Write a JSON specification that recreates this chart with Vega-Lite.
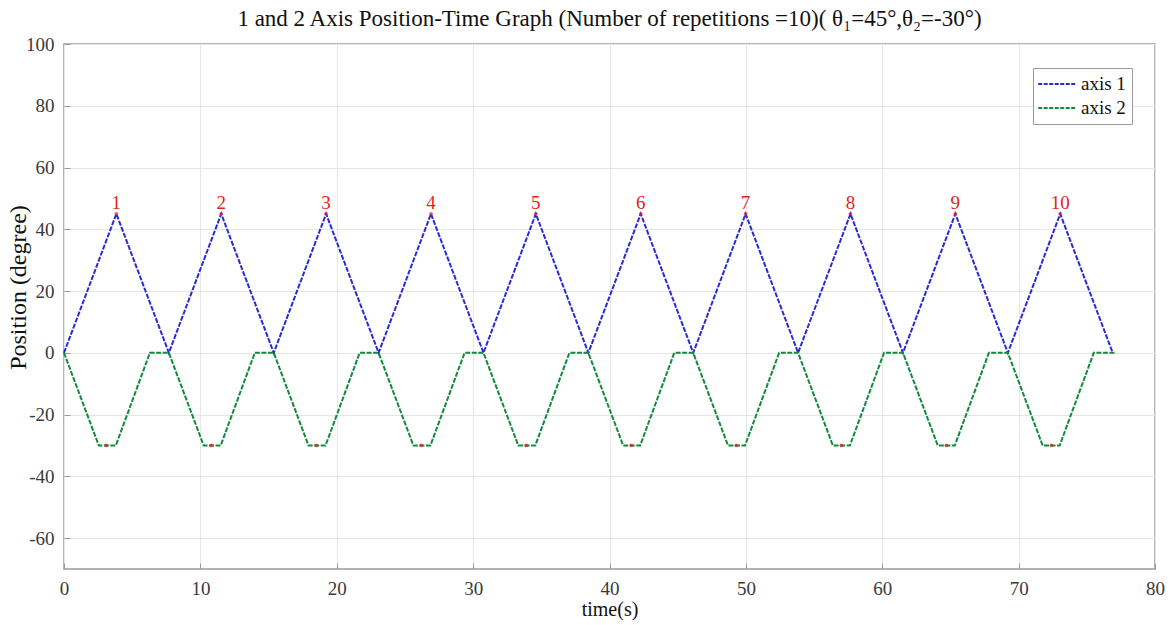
{
  "$schema": "https://vega.github.io/schema/vega-lite/v6.json",
  "autosize": "none",
  "width": 1091,
  "height": 525,
  "padding": {"left": 64, "top": 44, "right": 19, "bottom": 56},
  "background": "white",
  "config": {
    "font": "Liberation Serif",
    "view": {"stroke": "#9a9a9a", "strokeWidth": 1.5},
    "axis": {
      "labelFont": "Liberation Serif", "labelFontSize": 19, "labelColor": "#3a3a3a",
      "titleFont": "Liberation Serif", "titleFontWeight": "normal", "titleColor": "#111111",
      "gridColor": "#e6e6e6", "gridWidth": 1, "domain": false,
      "tickColor": "#9a9a9a", "tickSize": -6, "labelPadding": 16, "labelFlush": false,
      "labelExpr": "'' + datum.value"
    }
  },
  "title": {
    "text": "1 and 2 Axis Position-Time Graph (Number of repetitions =10)( θ₁=45°,θ₂=-30°)",
    "font": "Liberation Serif", "fontSize": 23, "fontWeight": "normal", "color": "#111111", "offset": 4
  },
  "datasets": {
    "lines": [
      {"t": 0, "v": 0, "s": "axis 1"}, {"t": 3.84, "v": 45, "s": "axis 1"}, {"t": 7.69, "v": 0, "s": "axis 1"},
      {"t": 11.53, "v": 45, "s": "axis 1"}, {"t": 15.38, "v": 0, "s": "axis 1"}, {"t": 19.22, "v": 45, "s": "axis 1"},
      {"t": 23.07, "v": 0, "s": "axis 1"}, {"t": 26.91, "v": 45, "s": "axis 1"}, {"t": 30.76, "v": 0, "s": "axis 1"},
      {"t": 34.6, "v": 45, "s": "axis 1"}, {"t": 38.45, "v": 0, "s": "axis 1"}, {"t": 42.29, "v": 45, "s": "axis 1"},
      {"t": 46.14, "v": 0, "s": "axis 1"}, {"t": 49.98, "v": 45, "s": "axis 1"}, {"t": 53.83, "v": 0, "s": "axis 1"},
      {"t": 57.67, "v": 45, "s": "axis 1"}, {"t": 61.52, "v": 0, "s": "axis 1"}, {"t": 65.36, "v": 45, "s": "axis 1"},
      {"t": 69.21, "v": 0, "s": "axis 1"}, {"t": 73.05, "v": 45, "s": "axis 1"}, {"t": 76.9, "v": 0, "s": "axis 1"},
      {"t": 0, "v": 0, "s": "axis 2"}, {"t": 2.55, "v": -30, "s": "axis 2"}, {"t": 3.8, "v": -30, "s": "axis 2"}, {"t": 6.3, "v": 0, "s": "axis 2"},
      {"t": 7.69, "v": 0, "s": "axis 2"}, {"t": 10.24, "v": -30, "s": "axis 2"}, {"t": 11.49, "v": -30, "s": "axis 2"}, {"t": 13.99, "v": 0, "s": "axis 2"},
      {"t": 15.38, "v": 0, "s": "axis 2"}, {"t": 17.93, "v": -30, "s": "axis 2"}, {"t": 19.18, "v": -30, "s": "axis 2"}, {"t": 21.68, "v": 0, "s": "axis 2"},
      {"t": 23.07, "v": 0, "s": "axis 2"}, {"t": 25.62, "v": -30, "s": "axis 2"}, {"t": 26.87, "v": -30, "s": "axis 2"}, {"t": 29.37, "v": 0, "s": "axis 2"},
      {"t": 30.76, "v": 0, "s": "axis 2"}, {"t": 33.31, "v": -30, "s": "axis 2"}, {"t": 34.56, "v": -30, "s": "axis 2"}, {"t": 37.06, "v": 0, "s": "axis 2"},
      {"t": 38.45, "v": 0, "s": "axis 2"}, {"t": 41.0, "v": -30, "s": "axis 2"}, {"t": 42.25, "v": -30, "s": "axis 2"}, {"t": 44.75, "v": 0, "s": "axis 2"},
      {"t": 46.14, "v": 0, "s": "axis 2"}, {"t": 48.69, "v": -30, "s": "axis 2"}, {"t": 49.94, "v": -30, "s": "axis 2"}, {"t": 52.44, "v": 0, "s": "axis 2"},
      {"t": 53.83, "v": 0, "s": "axis 2"}, {"t": 56.38, "v": -30, "s": "axis 2"}, {"t": 57.63, "v": -30, "s": "axis 2"}, {"t": 60.13, "v": 0, "s": "axis 2"},
      {"t": 61.52, "v": 0, "s": "axis 2"}, {"t": 64.07, "v": -30, "s": "axis 2"}, {"t": 65.32, "v": -30, "s": "axis 2"}, {"t": 67.82, "v": 0, "s": "axis 2"},
      {"t": 69.21, "v": 0, "s": "axis 2"}, {"t": 71.76, "v": -30, "s": "axis 2"}, {"t": 73.01, "v": -30, "s": "axis 2"}, {"t": 75.51, "v": 0, "s": "axis 2"},
      {"t": 77.1, "v": 0, "s": "axis 2"}
    ],
    "marks": [
      {"t": 3.84, "v": 45, "n": "1"}, {"t": 11.53, "v": 45, "n": "2"}, {"t": 19.22, "v": 45, "n": "3"},
      {"t": 26.91, "v": 45, "n": "4"}, {"t": 34.6, "v": 45, "n": "5"}, {"t": 42.29, "v": 45, "n": "6"},
      {"t": 49.98, "v": 45, "n": "7"}, {"t": 57.67, "v": 45, "n": "8"}, {"t": 65.36, "v": 45, "n": "9"},
      {"t": 73.05, "v": 45, "n": "10"}
    ],
    "bottoms": [
      {"t": 3.1, "v": -30}, {"t": 10.8, "v": -30}, {"t": 18.5, "v": -30}, {"t": 26.2, "v": -30}, {"t": 33.9, "v": -30},
      {"t": 41.6, "v": -30}, {"t": 49.3, "v": -30}, {"t": 57.0, "v": -30}, {"t": 64.7, "v": -30}, {"t": 72.4, "v": -30}
    ]
  },
  "layer": [
    {
      "data": {"name": "lines"},
      "mark": {"type": "line", "strokeWidth": 2, "strokeDash": [5, 1.5]},
      "encoding": {
        "x": {"field": "t", "type": "quantitative", "title": "time(s)",
              "scale": {"domain": [0, 80], "nice": false},
              "axis": {"values": [0, 10, 20, 30, 40, 50, 60, 70, 80], "titleFontSize": 20, "titleY": 30, "titleBaseline": "top"}},
        "y": {"field": "v", "type": "quantitative", "title": "Position (degree)",
              "scale": {"domain": [-70, 100], "nice": false},
              "axis": {"values": [-60, -40, -20, 0, 20, 40, 60, 80, 100], "titleFontSize": 24, "titleX": -46, "titleY": 243, "titleBaseline": "middle"}},
        "color": {"field": "s", "type": "nominal",
                  "scale": {"domain": ["axis 1", "axis 2"], "range": ["#2a2ad6", "#138a3c"]},
                  "legend": {"title": null, "orient": "none", "legendX": 969, "legendY": 24,
                             "symbolType": "M-1.2,0H3", "symbolStrokeWidth": 2, "symbolDash": [4, 1.5], "symbolSize": 324,
                             "labelFont": "Liberation Serif", "labelFontSize": 19, "labelColor": "#111111",
                             "strokeColor": "#9a9a9a", "fillColor": "white", "padding": 6, "rowPadding": 4,
                             "labelOffset": 22}},
        "order": {"field": "t", "type": "quantitative"}
      }
    },
    {
      "data": {"name": "marks"},
      "mark": {"type": "point", "filled": true, "color": "#e02020", "size": 14},
      "encoding": {"x": {"field": "t", "type": "quantitative"}, "y": {"field": "v", "type": "quantitative"}}
    },
    {
      "data": {"name": "bottoms"},
      "mark": {"type": "point", "filled": true, "color": "#e02020", "size": 14},
      "encoding": {"x": {"field": "t", "type": "quantitative"}, "y": {"field": "v", "type": "quantitative"}}
    },
    {
      "data": {"name": "marks"},
      "mark": {"type": "text", "color": "#e52222", "font": "Liberation Serif", "fontSize": 19, "baseline": "bottom", "dy": -1},
      "encoding": {"x": {"field": "t", "type": "quantitative"}, "y": {"field": "v", "type": "quantitative"}, "text": {"field": "n"}}
    }
  ]
}
